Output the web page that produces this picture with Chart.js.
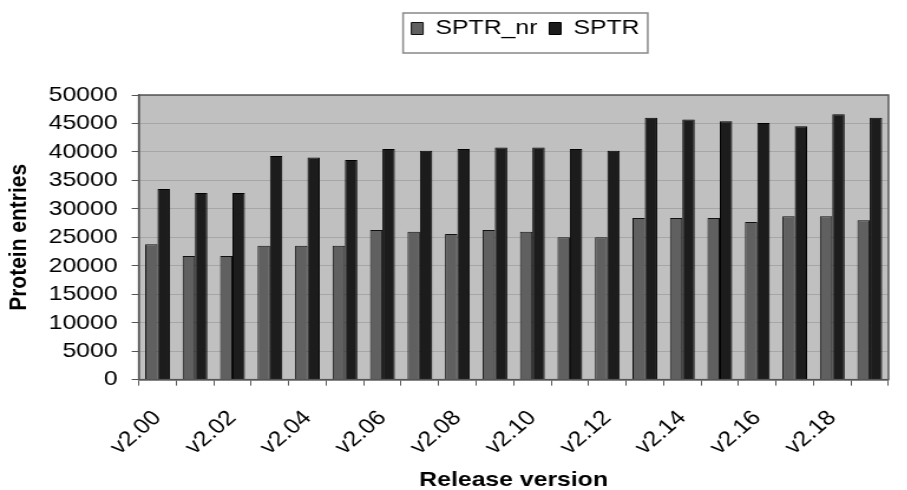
<!DOCTYPE html>
<html>
<head>
<meta charset="utf-8">
<script src="https://cdn.jsdelivr.net/npm/chart.js@4"></script>
<style>
  html, body { margin: 0; padding: 0; background: #fff; overflow: hidden; }
  /* the original picture is stretched sideways, so draw narrow and widen it */
  #wrap { position: relative; width: 775px; height: 490px; transform: scaleX(1.18); transform-origin: 0 0; }
</style>
</head>
<body>
<div id="wrap"><canvas id="releaseChart"></canvas></div>
<script>
const versions = ["v2.00", "v2.01", "v2.02", "v2.03", "v2.04", "v2.05", "v2.06", "v2.07", "v2.08", "v2.09",
                  "v2.10", "v2.11", "v2.12", "v2.13", "v2.14", "v2.15", "v2.16", "v2.17", "v2.18", "v2.19"];
const sptrNr = [23800, 21700, 21700, 23500, 23500, 23500, 26300, 26000, 25600, 26300,
                26000, 25000, 25000, 28400, 28400, 28400, 27700, 28700, 28700, 28000];
const sptr = [33500, 32800, 32800, 39300, 39000, 38600, 40500, 40200, 40500, 40800,
              40800, 40500, 40200, 46000, 45700, 45400, 45100, 44500, 46600, 46000];
const yTicks = [0, 5000, 10000, 15000, 20000, 25000, 30000, 35000, 40000, 45000, 50000];

const fontFamily = "'Liberation Sans', Arial, sans-serif";
const legendTop = 8;

// grey plot area with a frame, like the old spreadsheet charts
const plotArea = {
  id: "plotArea",
  afterLayout(chart) {
    // centre legend over the plot, not the canvas, and lift it up
    const lg = chart.legend;
    const h = lg.bottom - lg.top;
    lg.left = chart.chartArea.left + 10;
    lg.right = chart.chartArea.right + 10;
    lg.top = legendTop;
    lg.bottom = legendTop + h;
  },
  beforeDraw(chart) {
    const { ctx, chartArea: a } = chart;
    ctx.save();
    ctx.fillStyle = "#c0c0c0";
    ctx.fillRect(a.left, a.top, a.right - a.left, a.bottom - a.top);
    ctx.restore();
  },
  afterDatasetsDraw(chart) {
    const { ctx, chartArea: a } = chart;
    ctx.save();
    ctx.strokeStyle = "#555";
    ctx.lineWidth = 1.5;
    ctx.strokeRect(a.left, a.top, a.right - a.left, a.bottom - a.top);
    ctx.restore();
  },
  afterDraw(chart) {
    // frame round the legend entries
    const lg = chart.legend;
    const boxes = lg.legendHitBoxes;
    if (!boxes || !boxes.length) return;
    const ctx = chart.ctx;
    let l = Math.min(...boxes.map(b => b.left)) - 7;
    let r = Math.max(...boxes.map(b => b.left + b.width)) + 7;
    let t = lg.top + 5;
    let btm = lg.top + 45;
    ctx.save();
    ctx.strokeStyle = "#888";
    ctx.lineWidth = 1.5;
    ctx.strokeRect(l, t, r - l, btm - t);
    ctx.restore();
  }
};

new Chart(document.getElementById("releaseChart"), {
  type: "bar",
  data: {
    labels: versions,
    datasets: [{
      label: "SPTR_nr",
      data: sptrNr,
      backgroundColor: "#606060",
      borderColor: "#111",
      borderWidth: 1,
      categoryPercentage: 0.66,
      barPercentage: 1.0,
    }, {
      label: "SPTR",
      data: sptr,
      backgroundColor: "#1c1c1c",
      borderColor: "#000",
      borderWidth: 1,
      categoryPercentage: 0.66,
      barPercentage: 1.0,
    }]
  },
  options: {
    responsive: true,
    maintainAspectRatio: false,
    animation: false,
    layout: { padding: { top: 54, right: 4, left: 2, bottom: 0 } },
    scales: {
      x: {
        grid: { drawOnChartArea: false, tickLength: 6, tickColor: "#555" },
        border: { color: "#555", width: 1.5 },
        ticks: {
          autoSkip: false,
          maxRotation: 45,
          minRotation: 45,
          color: "#000",
          font: { family: fontFamily, size: 21 },
          padding: 20,
          callback: function(val, i) { return i % 2 == 0 ? versions[i] : ""; }
        },
        title: {
          display: true,
          text: "Release version",
          color: "#000",
          font: { family: fontFamily, size: 21, weight: "bold" },
          padding: { top: -12, bottom: -3 }
        }
      },
      y: {
        min: 0,
        max: 50000,
        afterBuildTicks: axis => { axis.ticks = yTicks.map(v => ({ value: v })); },
        grid: { color: "#a6a6a6", tickLength: 6, tickColor: "#555" },
        border: { color: "#555", width: 1.5 },
        ticks: {
          autoSkip: false,
          color: "#000",
          font: { family: fontFamily, size: 21 },
          padding: 12,
          callback: v => String(v)
        },
        title: {
          display: true,
          text: "Protein entries",
          color: "#000",
          font: { family: fontFamily, size: 21, weight: "bold" },
          padding: { top: 2, bottom: 0 }
        }
      }
    },
    plugins: {
      legend: {
        position: "top",
        labels: {
          color: "#000",
          font: { family: fontFamily, size: 21 },
          boxWidth: 10,
          boxHeight: 12,
          padding: 10,
        }
      },
      tooltip: { enabled: false }
    }
  },
  plugins: [plotArea]
});
</script>
</body>
</html>
